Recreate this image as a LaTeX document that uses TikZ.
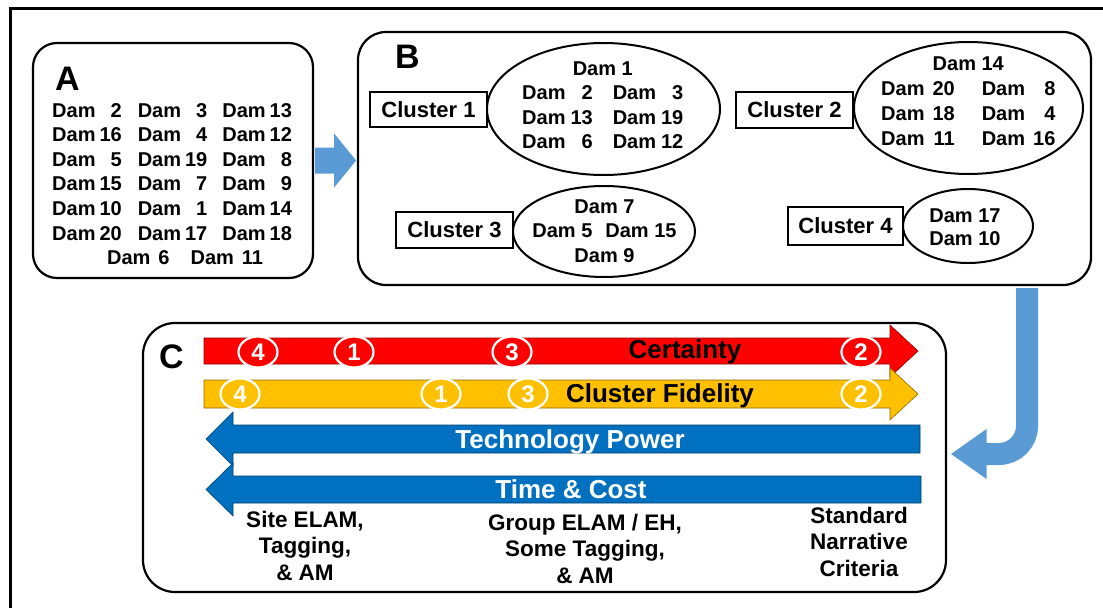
\documentclass[tikz,border=0pt]{standalone}
\usepackage{fontspec}
\setmainfont{Liberation Sans}
\usetikzlibrary{shapes.geometric,calc}
\definecolor{ltblue}{HTML}{5B9BD5}
\definecolor{dkblue}{HTML}{0070C0}
\definecolor{cred}{HTML}{FF0000}
\definecolor{cyel}{HTML}{FFC000}
\begin{document}
\begin{tikzpicture}[x=1pt,y=-1pt,
  rbox/.style={draw, line width=2.2pt, inner sep=0pt},
  clbox/.style={draw, line width=2.2pt, inner sep=0pt, font=\fontsize{22}{24}\selectfont\bfseries},
  clell/.style={draw, ellipse, line width=2pt, inner sep=0pt},
  damtxt/.style={inner sep=0pt, font=\fontsize{20}{24.6}\selectfont\bfseries},
  bigletter/.style={inner sep=0pt, anchor=base west, font=\fontsize{34}{34}\selectfont\bfseries},
  barlabel/.style={inner sep=0pt, anchor=base, font=\fontsize{26}{26}\selectfont\bfseries},
  methlabel/.style={inner sep=0pt, anchor=base, font=\fontsize{22.5}{26.5}\selectfont\bfseries},
  numc/.style={ellipse, draw=white, line width=2.2pt, minimum width=39pt, minimum height=31pt, inner sep=0pt, text=white, font=\fontsize{24}{24}\selectfont\bfseries},
  bararrow/.style={line width=0.6pt}
]
\useasboundingbox (0,0) rectangle (1103,608);
\fill[white] (0,0) rectangle (1103,608);
% outer frame
\draw[line width=3pt] (1103,8.5) -- (10.5,8.5) -- (10.5,608);

% boxes
\node[rbox, rounded corners=24pt, minimum width=280pt, minimum height=235pt] (boxA) at (173,160.5) {};
\node[rbox, rounded corners=28pt, minimum width=733pt, minimum height=253pt] (boxB) at (724.5,158.5) {};
\node[rbox, rounded corners=32pt, minimum width=803pt, minimum height=269pt] (boxC) at (544.5,457.5) {};

% arrow A -> B
\fill[ltblue] ($(boxA.east)+(1,-13)$) -- ++(19,0) -- ++(0,-14) -- ($(boxA.east)+(42,0)$) -- ($(boxA.east)+(20,27)$) -- ++(0,-14) -- ($(boxA.east)+(1,13)$) -- cycle;

% arrow B -> C
\coordinate (bx) at (1027,0);
\coordinate (tipC) at ($(boxC.east)+(4,-3.5)$);
\draw[ltblue, line width=22pt, rounded corners=28pt] ($(boxB.south -| bx)+(0,2)$) -- (1027,454) -- (986,454);
\fill[ltblue] (986.5,429) -- (tipC) -- (986.5,479) -- cycle;

% panel A
\node[bigletter] (labA) at (55,90) {A};
\node[damtxt, anchor=base west] (damsA) at (52,117) {\begin{tabular}[t]{@{}l@{\hspace{4pt}}r@{\hspace{16pt}}l@{\hspace{4pt}}r@{\hspace{15pt}}l@{\hspace{4pt}}r@{}}
Dam & 2 & Dam & 3 & Dam & 13\\
Dam & 16 & Dam & 4 & Dam & 12\\
Dam & 5 & Dam & 19 & Dam & 8\\
Dam & 15 & Dam & 7 & Dam & 9\\
Dam & 10 & Dam & 1 & Dam & 14\\
Dam & 20 & Dam & 17 & Dam & 18\\
\multicolumn{6}{c}{\hspace{26pt}Dam\hspace{8pt}6\hspace{21pt}Dam\hspace{8pt}11}
\end{tabular}};

% panel B
\node[bigletter] (labB) at (395,68) {B};
\node[clbox, minimum width=117pt, minimum height=35pt] (cl1) at (428.5,109.5) {Cluster 1};
\node[clbox, minimum width=117pt, minimum height=36pt] (cl2) at (794.5,110) {Cluster 2};
\node[clbox, minimum width=117pt, minimum height=36pt] (cl3) at (454.5,230) {Cluster 3};
\node[clbox, minimum width=115pt, minimum height=38pt] (cl4) at (845.5,226) {Cluster 4};

\node[clell, minimum width=233pt, minimum height=132pt] (e1) at (603.5,109) {};
\node[clell, minimum width=229pt, minimum height=132pt] (e2) at (968.5,108) {};
\node[clell, minimum width=182pt, minimum height=91pt] (e3) at (604,231.5) {};
\node[clell, minimum width=130pt, minimum height=74pt] (e4) at (968,226) {};

\node[damtxt, anchor=base west] (dams1) at (522,75) {\begin{tabular}[t]{@{}l@{\hspace{5pt}}r@{\hspace{20pt}}l@{\hspace{5pt}}r@{}}
\multicolumn{4}{c}{Dam 1}\\
Dam & 2 & Dam & 3\\
Dam & 13 & Dam & 19\\
Dam & 6 & Dam & 12
\end{tabular}};
\node[damtxt, font=\fontsize{20}{25}\selectfont\bfseries, anchor=base west] (dams2) at (881,70) {\begin{tabular}[t]{@{}l@{\hspace{8pt}}r@{\hspace{27pt}}l@{\hspace{8pt}}r@{}}
\multicolumn{4}{c}{Dam 14}\\
Dam & 20 & Dam & 8\\
Dam & 18 & Dam & 4\\
Dam & 11 & Dam & 16
\end{tabular}};
\node[damtxt, anchor=base] (dams3) at (604.5,213) {\begin{tabular}[t]{@{}c@{}}
Dam 7\\
Dam 5\hspace{13pt}Dam 15\\
Dam 9
\end{tabular}};
\node[damtxt, font=\fontsize{20}{23}\selectfont\bfseries, anchor=base] (dams4) at (965,222) {\begin{tabular}[t]{@{}c@{}}
Dam 17\\
Dam 10
\end{tabular}};

% panel C
\node[bigletter] (labC) at (159,368) {C};
\filldraw[bararrow, fill=cred, draw=red!55!black] (204,338) -- (890,338) -- (890,325) -- (918,351) -- (890,377) -- (890,364) -- (204,364) -- cycle;
\filldraw[bararrow, fill=cyel, draw=cyel!55!black] (204,380) -- (890,380) -- (890,368) -- (918,394) -- (890,420) -- (890,408) -- (204,408) -- cycle;
\filldraw[bararrow, fill=dkblue, draw=dkblue!55!black] (920,425) -- (233,425) -- (233,412) -- (206,439) -- (233,466) -- (233,453) -- (920,453) -- cycle;
\filldraw[bararrow, fill=dkblue, draw=dkblue!55!black] (921,476) -- (233,476) -- (233,463) -- (206,489.5) -- (233,516) -- (233,503) -- (921,503) -- cycle;

\node[barlabel] (cert) at (685,358) {Certainty};
\node[barlabel] (fid) at (660,402) {Cluster Fidelity};
\node[barlabel, text=white] (tech) at (570,448) {Technology Power};
\node[barlabel, text=white] (time) at (571,498) {Time \& Cost};

\node[numc, fill=cred] (r4) at (258,352) {4};
\node[numc, fill=cred] (r1) at (354,352) {1};
\node[numc, fill=cred] (r3) at (512,352) {3};
\node[numc, fill=cred] (r2) at (861,352) {2};
\node[numc, fill=cyel] (y4) at (240,394) {4};
\node[numc, fill=cyel] (y1) at (441,394) {1};
\node[numc, fill=cyel] (y3) at (528,394) {3};
\node[numc, fill=cyel] (y2) at (861,394) {2};

\node[methlabel] (site) at (305,527) {\begin{tabular}[t]{@{}c@{}}Site ELAM,\\Tagging,\\\& AM\end{tabular}};
\node[methlabel] (group) at (585,530) {\begin{tabular}[t]{@{}c@{}}Group ELAM / EH,\\Some Tagging,\\\& AM\end{tabular}};
\node[methlabel] (std) at (859,523) {\begin{tabular}[t]{@{}c@{}}Standard\\Narrative\\Criteria\end{tabular}};
\end{tikzpicture}
\end{document}
